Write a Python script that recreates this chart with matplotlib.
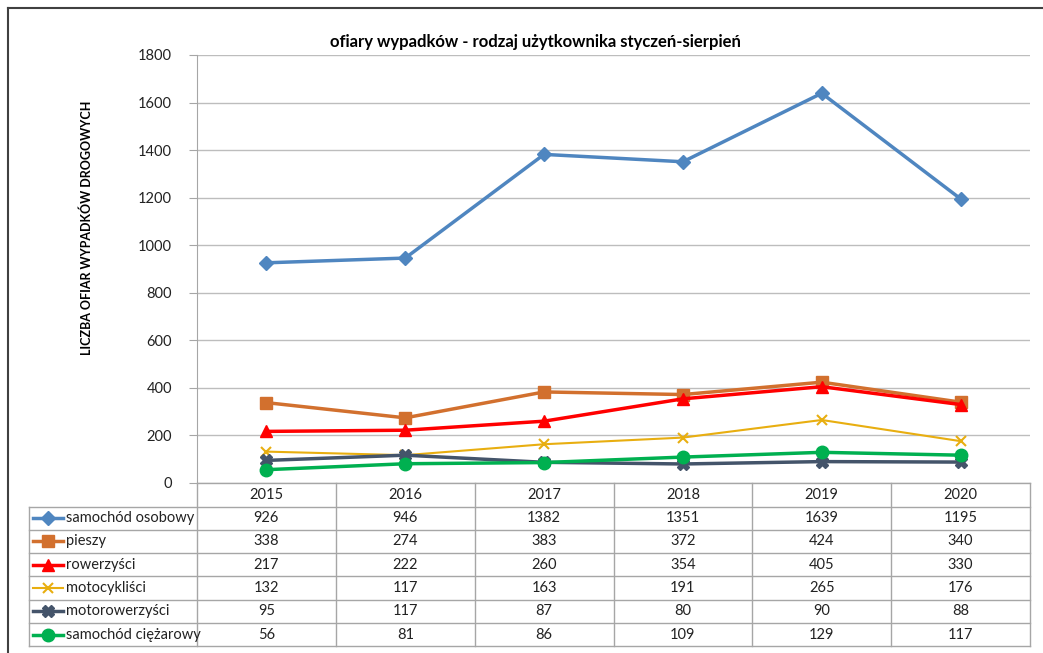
import matplotlib
matplotlib.use("Agg")
import matplotlib.pyplot as plt
from matplotlib.lines import Line2D

plt.rcParams['font.family'] = ['Lato', 'DejaVu Sans']

years = ['2015', '2016', '2017', '2018', '2019', '2020']
series_names = ['samochód osobowy', 'pieszy', 'rowerzyści', 'motocykliści',
                'motorowerzyści', 'samochód ciężarowy']
samochod_osobowy = [926, 946, 1382, 1351, 1639, 1195]
pieszy = [338, 274, 383, 372, 424, 340]
rowerzysci = [217, 222, 260, 354, 405, 330]
motocyklisci = [132, 117, 163, 191, 265, 176]
motorowerzysci = [95, 117, 87, 80, 90, 88]
samochod_ciezarowy = [56, 81, 86, 109, 129, 117]
values = [samochod_osobowy, pieszy, rowerzysci, motocyklisci, motorowerzysci, samochod_ciezarowy]

colors = ['#4F86C0', '#D2702E', '#FF0000', '#E8AE10', '#44546A', '#00B050']
markers = ['D', 's', '^', 'x', 'X', 'o']
msizes = [7, 9, 9, 7, 9, 9]
lws = [2.5, 2.5, 2.5, 1.5, 2.5, 2.5]

W, H = 1043, 653
fig = plt.figure(figsize=(W / 100, H / 100), dpi=100)

def fx(x):
    return x / W

def fy(y):
    return 1 - y / H

L, R, T, B = 197, 1030, 55, 483
ax = fig.add_axes([fx(L), fy(B), fx(R) - fx(L), fy(T) - fy(B)])
xs = list(range(len(years)))
for vals, c, m, ms, lw in zip(values, colors, markers, msizes, lws):
    ax.plot(xs, vals, color=c, marker=m, markersize=ms, linewidth=lw,
            markeredgecolor=c, markeredgewidth=1.5 if m == 'x' else 1)
ax.set_xlim(-0.5, len(years) - 0.5)
ax.set_ylim(0, 1800)
ax.set_yticks(range(0, 1801, 200))
ax.set_xticks([])
ax.yaxis.grid(True, color='#BDBDBD', linewidth=1)
ax.set_axisbelow(True)
for s in ['top', 'right', 'bottom']:
    ax.spines[s].set_visible(False)
ax.spines['left'].set_color('#A6A6A6')
ax.tick_params(axis='y', length=6, color='#A6A6A6', labelsize=10.5, pad=12)
ax.tick_params(axis='y', which='major', direction='out')
for lab in ax.get_yticklabels():
    lab.set_color('#222222')

# title and y label
fig.text(fx(535), fy(42), 'ofiary wypadków - rodzaj użytkownika styczeń-sierpień',
         ha='center', va='center', fontsize=12, fontweight='bold')
fig.text(fx(87), fy(228), 'LICZBA OFIAR WYPADKÓW DROGOWYCH', rotation=90,
         ha='center', va='center', fontsize=9, fontweight='bold')

# outer border (top and left)
fig.add_artist(Line2D([fx(8), fx(8)], [fy(8), fy(H)], color='#404040', lw=1.5))
fig.add_artist(Line2D([fx(8), fx(W)], [fy(8), fy(8)], color='#404040', lw=1.5))

# data table
gc = '#A6A6A6'
colw = (R - L) / len(years)
row_top = 506.5
rh = 23.3
nrows = len(series_names)
tab_left = 29
bottom = row_top + rh * nrows
fig.add_artist(Line2D([fx(L), fx(R)], [fy(B), fy(B)], color=gc, lw=1))
for i in range(len(years) + 1):
    x = L + i * colw
    fig.add_artist(Line2D([fx(x), fx(x)], [fy(B), fy(bottom)], color=gc, lw=1))
fig.add_artist(Line2D([fx(tab_left), fx(tab_left)], [fy(row_top), fy(bottom)], color=gc, lw=1))
for r in range(nrows + 1):
    y = row_top + r * rh
    fig.add_artist(Line2D([fx(tab_left), fx(R)], [fy(y), fy(y)], color=gc, lw=1))
for i, yr in enumerate(years):
    fig.text(fx(L + (i + 0.5) * colw), fy((B + row_top) / 2), yr,
             ha='center', va='center', fontsize=10.5, color='#222222')
for r, (name, vals) in enumerate(zip(series_names, values)):
    yc = row_top + (r + 0.5) * rh
    fig.add_artist(Line2D([fx(33), fx(63)], [fy(yc), fy(yc)], color=colors[r],
                          lw=lws[r], marker=None))
    fig.add_artist(Line2D([fx(48)], [fy(yc)], color=colors[r], marker=markers[r],
                          markersize=msizes[r], markeredgecolor=colors[r],
                          markeredgewidth=1.5 if markers[r] == 'x' else 1, lw=0))
    fig.text(fx(66), fy(yc), name, ha='left', va='center', fontsize=10.5, color='#222222')
    for i, v in enumerate(vals):
        fig.text(fx(L + (i + 0.5) * colw), fy(yc), str(v),
                 ha='center', va='center', fontsize=10.5, color='#222222')

fig.savefig('out.png', dpi=100)
